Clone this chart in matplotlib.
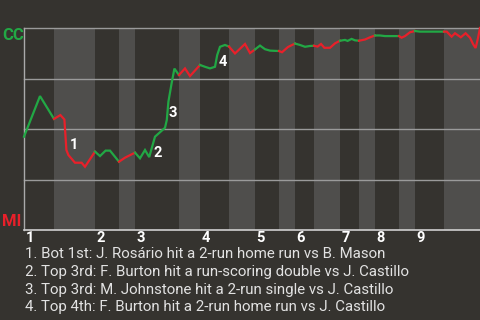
import matplotlib
matplotlib.use('Agg')
import matplotlib.pyplot as plt

plt.rcParams['font.family'] = ['Roboto', 'DejaVu Sans']

# Probabilidad de ganar (CC arriba, MI abajo) por jugada
pa = [0, 4, 7.5, 9.1, 10.1, 10.6, 11.1, 12.75, 14.4, 15.25,
      17.75, 19, 20.4, 21.5, 23.75, 25.25, 27.75, 29, 30.25, 31.3,
      32.75, 35.25, 35.7, 36.1, 36.9, 37.6, 38.75, 40.25, 41.5, 44,
      45.25, 46.5, 47.75, 48.3, 49, 50.25, 51.25, 52.75, 55.25, 56.5,
      57.75, 59, 60.25, 61.5, 63.75, 64.5, 66, 67.75, 69, 70.25,
      71.5, 72.5, 73.4, 74.25, 75.1, 76.5, 77.75, 79, 80.25, 80.9,
      81.9, 82.75, 83.75, 85.25, 86.5, 87.75, 89, 90.25, 93.75, 94.4,
      95.25, 96.5, 97.75, 99, 105, 105.7, 106.9, 107.75, 109.2, 110.4,
      111.5, 112.25, 112.9, 113.5, 114]
wp = [46.2, 66.3, 55.0, 56.9, 54.7, 39.6, 37.1, 33.3, 33.3, 31.3,
      38.8, 36.6, 39.3, 39.3, 33.8, 35.8, 38.3, 35.5, 39.6, 36.1,
      46.2, 50.6, 54.5, 63.5, 72.6, 79.9, 76.7, 80.0, 76.2, 81.7,
      80.8, 80.0, 80.8, 86.6, 90.7, 91.6, 90.8, 87.4, 92.1, 87.6,
      89.4, 91.3, 89.5, 88.8, 88.6, 88.0, 90.6, 92.3, 91.6, 90.7,
      91.1, 91.2, 90.8, 92.1, 90.2, 90.2, 92.4, 93.7, 94.1, 93.6,
      94.6, 93.9, 93.7, 94.3, 95.4, 96.3, 96.3, 96.0, 96.0, 95.2,
      96.0, 97.9, 98.5, 98.2, 98.2, 98.2, 95.7, 97.4, 95.4, 97.4,
      95.2, 92.1, 90.1, 95.0, 100]

# Inicio de cada media entrada (alta, baja, alta, baja...)
half_starts = [0, 7.5, 17.75, 23.75, 27.75, 38.75, 44, 51.25, 57.75, 63.75,
               67.75, 72.5, 79, 83.75, 87.75, 93.75, 97.75, 105, 114]
innings = ['1', '2', '3', '4', '5', '6', '7', '8', '9']

# Jugadas clave
event_pa = [11.1, 32.75, 36.1, 49]
event_labels = ['1', '2', '3', '4']
event_offsets = [(1.5, 10), (-1, -16), (0.5, -11), (-1, -15)]
captions = [
    '1. Bot 1st: J. Rosário hit a 2-run home run vs B. Mason',
    '2. Top 3rd: F. Burton hit a run-scoring double vs J. Castillo',
    '3. Top 3rd: M. Johnstone hit a 2-run single vs J. Castillo',
    '4. Top 4th: F. Burton hit a 2-run home run vs J. Castillo',
]

bg_dark = '#35332f'
bg_light = '#4f4e4c'
green = '#22a845'
red = '#e8202a'

fig = plt.figure(figsize=(4.8, 3.2), dpi=100, facecolor=bg_dark)
ax = fig.add_axes([24 / 480, 1 - 230 / 320, 456 / 480, 202 / 320])
ax.set_facecolor(bg_dark)
ax.set_xlim(half_starts[0], half_starts[-1])
ax.set_ylim(0, 100)

# Bandas: bajas de entrada en gris claro
for i in range(len(half_starts) - 1):
    if i % 2 == 1:
        ax.axvspan(half_starts[i], half_starts[i + 1], color=bg_light, lw=0, zorder=0)

# Rejilla horizontal
for g in [25, 50, 75, 100]:
    ax.axhline(g, color='#9a9a9a', lw=1, zorder=1, clip_on=False)

# Línea por media entrada: verde cuando batea CC, rojo cuando batea MI
for i in range(len(half_starts) - 1):
    xs = [x for x in pa if half_starts[i] <= x <= half_starts[i + 1]]
    ys = [wp[pa.index(x)] for x in xs]
    ax.plot(xs, ys, color=green if i % 2 == 0 else red, lw=1.6,
            solid_joinstyle='miter', zorder=3, clip_on=False)

# Números de jugadas clave
for p, lab, off in zip(event_pa, event_labels, event_offsets):
    ax.annotate(lab, (p, wp[pa.index(p)]), xytext=off, textcoords='offset pixels',
                ha='left', va='center', color='white', fontsize=10.5,
                fontweight='bold', zorder=4)

# Etiquetas de entradas
for i, lab in enumerate(innings):
    ax.annotate(lab, (half_starts[2 * i], 0), xycoords=('data', 'axes fraction'),
                xytext=(1.5, -11.5), textcoords='offset pixels', ha='left',
                va='baseline', color='white', fontsize=10.5, fontweight='bold',
                annotation_clip=False)

# Ejes
for s in ['top', 'right']:
    ax.spines[s].set_visible(False)
ax.spines['left'].set_color('#aaaaaa')
ax.spines['bottom'].set_color('#d0d0d0')
ax.spines['left'].set_linewidth(1)
ax.spines['bottom'].set_linewidth(1.2)
ax.set_xticks([])
ax.set_yticks([])

# Nombres de equipos
fig.text(2 / 480, 1 - 40 / 320, 'CC', color=green, fontsize=12, fontweight='bold',
         ha='left', va='baseline')
fig.text(2 / 480, 1 - 225.5 / 320, 'MI', color=red, fontsize=12, fontweight='bold',
         ha='left', va='baseline')

# Descripción de jugadas
for i, c in enumerate(captions):
    fig.text(25 / 480, 1 - (258.3 + 17.7 * i) / 320, c, color='#e2e2e2',
             fontsize=10.8, ha='left', va='baseline')

plt.savefig('out.png', dpi=100, facecolor=bg_dark)
